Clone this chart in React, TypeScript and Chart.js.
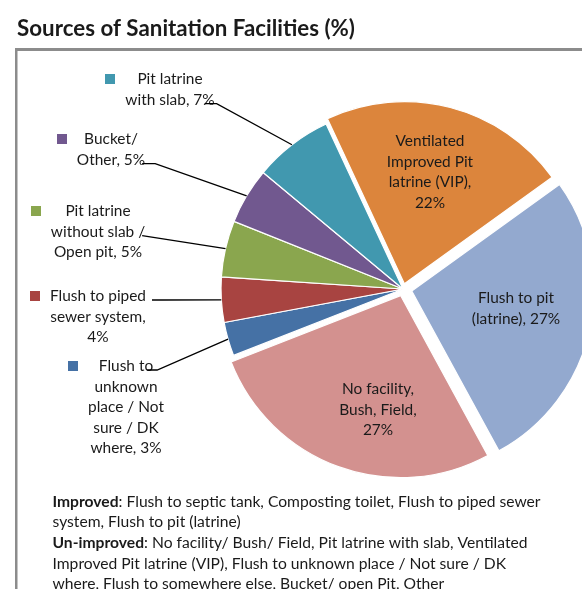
import React, { useEffect, useRef } from 'react';
import { Chart, registerables } from 'chart.js';

Chart.register(...registerables);

// ---- data ----
const titleText = 'Sources of Sanitation Facilities (%)';
const categories = [
  'Ventilated Improved Pit latrine (VIP)',
  'Flush to pit (latrine)',
  'No facility, Bush, Field',
  'Flush to unknown place / Not sure / DK where',
  'Flush to piped sewer system',
  'Pit latrine without slab / Open pit',
  'Bucket/ Other',
  'Pit latrine with slab',
];
const values = [22, 27, 27, 3, 4, 5, 5, 7];
const nameLines = [
  ['Ventilated', 'Improved Pit', 'latrine (VIP),'],
  ['Flush to pit', '(latrine),'],
  ['No facility,', 'Bush, Field,'],
  ['Flush to', 'unknown', 'place / Not', 'sure / DK', 'where,'],
  ['Flush to piped', 'sewer system,'],
  ['Pit latrine', 'without slab /', 'Open pit,'],
  ['Bucket/', 'Other,'],
  ['Pit latrine', 'with slab,'],
];
const pctOwnLine = [true, false, true, false, true, false, false, false];
const footLines = [
  [['Improved', true], [': Flush to septic tank, Composting toilet, Flush to piped sewer', false]],
  [['system, Flush to pit (latrine)', false]],
  [['Un-improved', true], [': No facility/ Bush/ Field, Pit latrine with slab, Ventilated', false]],
  [['Improved Pit latrine (VIP), Flush to unknown place / Not sure / DK', false]],
  [['where, Flush to somewhere else, Bucket/ open Pit, Other', false]],
] as [string, boolean][][];

// ---- styles / layout ----
const colors = ['#DC853C', '#93A9CF', '#D3918F', '#4571A5', '#A84441', '#8AA64E', '#71588F', '#4198AF'];
const explode = [22, 36, 28, 0, 0, 0, 0, 0];
const LH = 20.6;
const labelLayout: { x: number; y: number; leader?: { line: number; start: number; elbow: number } }[] = [
  { x: 430, y: 141 },
  { x: 516, y: 298 },
  { x: 378, y: 389 },
  { x: 126, y: 366, leader: { line: 0, start: -6, elbow: 4 } },
  { x: 98, y: 296, leader: { line: 0, start: 6, elbow: 16 } },
  { x: 98, y: 211, leader: { line: 1, start: -3, elbow: -3 } },
  { x: 111, y: 139, leader: { line: 1, start: -3, elbow: 10 } },
  { x: 170, y: 79, leader: { line: 1, start: -10, elbow: 2 } },
];
const FONT = 'Lato, "Open Sans", sans-serif';
const TEXT = '#1a1a1a';

function txt(ctx: CanvasRenderingContext2D, s: string, x: number, y: number, align: string, sx: number) {
  const w = ctx.measureText(s).width * sx;
  const left = align === 'center' ? x - w / 2 : align === 'right' ? x - w : x;
  ctx.save();
  ctx.translate(left, y);
  ctx.scale(sx, 1);
  ctx.textAlign = 'left';
  ctx.fillText(s, 0, 0);
  ctx.restore();
  return w;
}

const overlay = {
  id: 'overlay',
  afterDraw(chart: any) {
    const ctx: CanvasRenderingContext2D = chart.ctx;
    ctx.save();
    ctx.textBaseline = 'alphabetic';
    // frame
    ctx.fillStyle = '#8c8c8c';
    ctx.fillRect(15, 48, 600, 3);
    ctx.fillRect(15, 48, 2.5, 600);
    // title
    ctx.fillStyle = TEXT;
    ctx.font = `bold 22px ${FONT}`;
    const tsx = 338 / ctx.measureText(titleText).width;
    txt(ctx, titleText, 17, 35.5, 'left', tsx);

    // data labels
    ctx.font = `15.5px ${FONT}`;
    const lsx = 96 / ctx.measureText('Flush to piped').width;
    const meta = chart.getDatasetMeta(0);
    meta.data.forEach((el: any, i: number) => {
      const lines = nameLines[i].slice();
      const pct = `${values[i]}%`;
      if (pctOwnLine[i]) lines.push(pct);
      else lines[lines.length - 1] = lines[lines.length - 1] + ' ' + pct;
      const L = labelLayout[i];
      const widths = lines.map((s) => ctx.measureText(s).width * lsx);
      const maxW = Math.max(...widths);
      ctx.fillStyle = TEXT;
      lines.forEach((s, j) => txt(ctx, s, L.x, L.y + j * LH + 5, 'center', lsx));
      if (L.leader) {
        ctx.fillStyle = colors[i];
        ctx.fillRect(Math.round(L.x - maxW / 2 - 20), Math.round(L.y - 5), 10, 10);
        const p = el.getProps(['x', 'y', 'startAngle', 'endAngle', 'outerRadius'], true);
        const mid = (p.startAngle + p.endAngle) / 2;
        const ex = p.x + Math.cos(mid) * p.outerRadius;
        const ey = p.y + Math.sin(mid) * p.outerRadius;
        const right = L.x + widths[L.leader.line] / 2;
        const ly = L.y + L.leader.line * LH + 4;
        ctx.strokeStyle = '#000';
        ctx.lineWidth = 1.3;
        ctx.beginPath();
        ctx.moveTo(right + L.leader.start, ly);
        ctx.lineTo(right + L.leader.elbow, ly);
        ctx.lineTo(ex, ey);
        ctx.stroke();
      }
    });

    // footnote
    ctx.fillStyle = TEXT;
    const regF = `15.5px ${FONT}`;
    const boldF = `bold 15.5px ${FONT}`;
    const measureLine = (segs: [string, boolean][]) =>
      segs.reduce((a, [s, b]) => {
        ctx.font = b ? boldF : regF;
        return a + ctx.measureText(s).width;
      }, 0);
    const fsx = 488 / measureLine(footLines[0]);
    footLines.forEach((segs, k) => {
      let x = 52.5;
      const y = 506.5 + k * 20.7;
      segs.forEach(([s, b]) => {
        ctx.font = b ? boldF : regF;
        x += txt(ctx, s, x, y, 'left', fsx);
      });
    });
    ctx.restore();
  },
};

export default function App() {
  const ref = useRef<HTMLCanvasElement>(null);
  useEffect(() => {
    const canvas = ref.current!;
    const chart = new Chart(canvas, {
      type: 'pie',
      data: {
        labels: categories,
        datasets: [
          {
            data: values,
            backgroundColor: colors,
            borderColor: '#ffffff',
            borderWidth: 1.2,
            offset: explode,
            radius: 182,
            rotation: -25,
            clip: false,
          } as any,
        ],
      },
      options: {
        animation: false,
        responsive: false,
        devicePixelRatio: 1,
        rotation: -25,
        events: [],
        layout: { padding: { left: 300, right: 76, top: 100, bottom: 111 } },
        plugins: { legend: { display: false }, tooltip: { enabled: false }, title: { display: false } },
      } as any,
      plugins: [overlay],
    });
    return () => chart.destroy();
  }, []);
  return (
    <canvas
      ref={ref}
      width={582}
      height={589}
      style={{ position: 'fixed', left: 0, top: 0, width: 582, height: 589, background: '#fff' }}
    />
  );
}
